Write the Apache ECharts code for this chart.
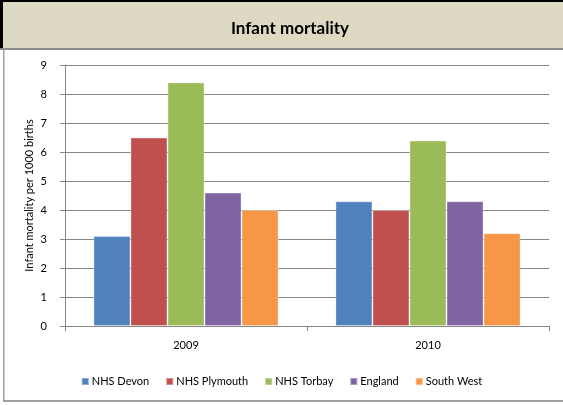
<!DOCTYPE html>
<html>
<head>
<meta charset="utf-8">
<script src="https://cdn.jsdelivr.net/npm/echarts@6/dist/echarts.min.js"></script>
<style>
html,body{margin:0;padding:0;background:#fff;}
#chart{width:563px;height:405px;}
</style>
</head>
<body>
<div id="chart"></div>
<script>
const categories = ['2009', '2010'];
const seriesNames = ['NHS Devon', 'NHS Plymouth', 'NHS Torbay', 'England', 'South West'];
const devon = [3.1, 4.3];
const plymouth = [6.5, 4.0];
const torbay = [8.4, 6.4];
const england = [4.6, 4.3];
const southWest = [4.0, 3.2];
const yTicks = [0, 1, 2, 3, 4, 5, 6, 7, 8, 9];
const colors = ['#4F81BD', '#C0504D', '#9BBB59', '#8064A2', '#F79646'];

const values = [devon, plymouth, torbay, england, southWest];
const font = 'Lato, "Open Sans", sans-serif';

const chart = echarts.init(document.getElementById('chart'), null, {renderer: 'canvas'});
chart.setOption({
  animation: false,
  color: colors,
  textStyle: {fontFamily: font},
  graphic: [
    {type: 'rect', shape: {x: 0, y: 0, width: 563, height: 49}, style: {fill: '#DDD9C3'}, z: -10},
    {type: 'rect', shape: {x: 0, y: 0, width: 563, height: 2}, style: {fill: '#000'}, z: -9},
    {type: 'rect', shape: {x: 0, y: 0, width: 3, height: 49}, style: {fill: '#000'}, z: -9},
    {type: 'rect', shape: {x: 0, y: 48, width: 563, height: 2}, style: {fill: '#8C8C8C'}, z: -9},
    {type: 'rect', shape: {x: 3, y: 49, width: 1.5, height: 353}, style: {fill: '#A0A0A0'}, z: -9},
    {type: 'rect', shape: {x: 3, y: 400, width: 560, height: 2}, style: {fill: '#A0A0A0'}, z: -9}
  ],
  title: {
    text: 'Infant mortality',
    left: 285,
    top: 15,
    textAlign: 'center',
    textStyle: {fontFamily: font, fontSize: 17, fontWeight: 'bold', color: '#000'}
  },
  legend: {
    data: seriesNames,
    bottom: 13,
    left: 'center',
    icon: 'rect',
    itemWidth: 7,
    itemHeight: 7,
    itemGap: 16,
    textStyle: {fontFamily: font, fontSize: 11, color: '#000', padding: [0, 0, 0, -2]}
  },
  grid: {left: 65, right: 14, top: 65, bottom: 79, containLabel: false},
  xAxis: {
    type: 'category',
    data: categories,
    axisLine: {lineStyle: {color: '#868686', width: 1}},
    axisTick: {show: true, length: 5, lineStyle: {color: '#868686'}},
    axisLabel: {margin: 14, fontSize: 11, color: '#000', fontFamily: font}
  },
  yAxis: {
    type: 'value',
    min: yTicks[0],
    max: yTicks[yTicks.length - 1],
    interval: 1,
    name: 'Infant mortality per 1000 births',
    nameLocation: 'middle',
    nameGap: 30,
    nameMoveOverlap: false,
    nameTextStyle: {fontSize: 11, color: '#000', fontFamily: font},
    axisLine: {show: true, lineStyle: {color: '#868686'}},
    axisTick: {show: true, length: 5, lineStyle: {color: '#868686'}},
    axisLabel: {margin: 18, fontSize: 11, color: '#000', fontFamily: font},
    splitLine: {lineStyle: {color: '#868686', width: 1}}
  },
  series: seriesNames.map((n, i) => ({
    name: n,
    type: 'bar',
    data: values[i],
    barGap: '0%',
    barCategoryGap: '23.5%',
    itemStyle: {color: colors[i], borderColor: 'rgba(255,255,255,0.35)', borderWidth: 1}
  }))
});
</script>
</body>
</html>
